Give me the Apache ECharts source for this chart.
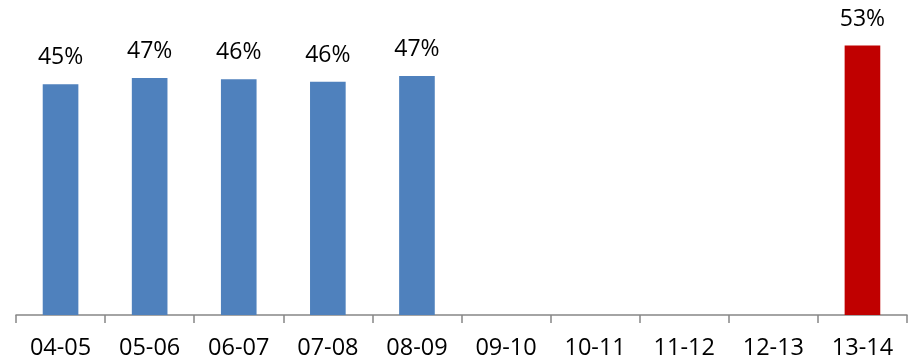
<!DOCTYPE html>
<html><head><meta charset="utf-8">
<script src="https://cdn.jsdelivr.net/npm/echarts@6/dist/echarts.min.js"></script>
<style>html,body{margin:0;padding:0;background:#fff}#c{width:912px;height:361px}</style>
</head><body><div id="c"></div>
<script>
var categories = ['04-05','05-06','06-07','07-08','08-09','09-10','10-11','11-12','12-13','13-14'];
var values = [45.4, 46.6, 46.4, 45.9, 47.0, null, null, null, null, 53.0];
var highlightIndex = 9;

var chart = echarts.init(document.getElementById('c'));
chart.setOption({
  animation: false,
  grid: {left: 16, right: 5, top: 10, bottom: 46},
  xAxis: {
    type: 'category',
    data: categories,
    axisLine: {lineStyle: {color: '#868686', width: 1.5}},
    axisTick: {show: true, length: 8, lineStyle: {color: '#868686', width: 1.5}},
    axisLabel: {color: '#000', fontFamily: 'Open Sans', fontSize: 23.5, margin: 21, interval: 0}
  },
  yAxis: {type: 'value', min: 0, max: 60, show: false, splitLine: {show: false}},
  series: [{
    type: 'bar',
    barWidth: '40%',
    data: values.map(function (v, i) {
      return {value: v, itemStyle: {color: i === highlightIndex ? '#C00000' : '#4F81BD'}};
    }),
    label: {
      show: true, position: 'top', distance: 15,
      color: '#000', fontFamily: 'Open Sans', fontSize: 23,
      formatter: function (p) { return p.value == null ? '' : Math.round(p.value) + '%'; }
    }
  }]
});
</script></body></html>
